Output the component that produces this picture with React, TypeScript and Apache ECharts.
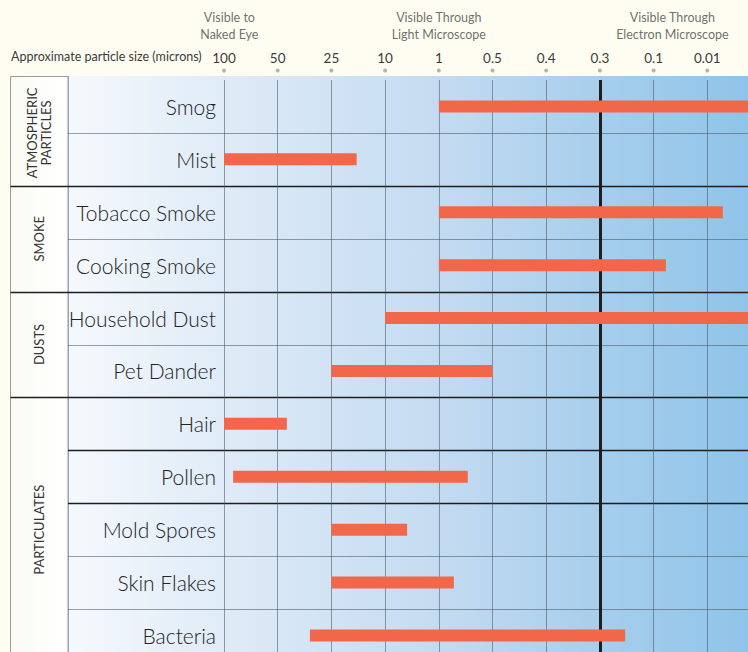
import React, { useEffect, useRef } from "react";
import * as echarts from "echarts";

// ---- data ----
const categories = [
  "Smog", "Mist", "Tobacco Smoke", "Cooking Smoke", "Household Dust", "Pet Dander",
  "Hair", "Pollen", "Mold Spores", "Skin Flakes", "Bacteria",
];
// x positions are ordinal indices along the size scale below
const sizeLabels = ["100", "50", "25", "10", "1", "0.5", "0.4", "0.3", "0.1", "0.01"];
const rangeStart = [4, 0, 4, 4, 3, 2, 0, 0.17, 2, 2, 1.6];
const rangeEnd = [10, 2.47, 9.29, 8.23, 10, 5, 1.17, 4.54, 3.41, 4.28, 7.47];

const groupNames = ["ATMOSPHERIC\nPARTICLES", "SMOKE", "DUSTS", "PARTICULATES"];
const groupStarts = [0, 2, 4, 6];
const groupEnds = [2, 4, 6, 11];
const darkSeparators = [7, 8];
const emphasisIndex = 7; // 0.3 micron line

const headerTexts = ["Visible to\nNaked Eye", "Visible Through\nLight Microscope", "Visible Through\nElectron Microscope"];
const headerPositions = [0.1, 4.0, 8.35];

// ---- layout ----
const W = 748;
const H = 652;
const GRID_LEFT = 68;
const GRID_TOP = 80;
const ROW_H = 52.9;
const STEP = 53.7;
const X0 = 224; // pixel of first size tick
const CAT_LEFT = 10.5;
const FONT = "Lato, 'Noto Sans', sans-serif";
const TEXT = "#3b3b3b";

export default function App() {
  const ref = useRef<HTMLDivElement>(null);

  useEffect(() => {
    if (!ref.current) return;
    const chart = echarts.init(ref.current, null, { renderer: "svg" });
    const xMin = (GRID_LEFT - X0) / STEP;
    const xMax = (W - X0) / STEP;
    const yMax = (H - GRID_TOP) / ROW_H;

    const separators: number[] = [];
    for (let b = 1; b < categories.length; b++) separators.push(b);

    const option: any = {
      animation: false,
      backgroundColor: "#fffdf1",
      grid: { left: GRID_LEFT, right: 0, top: GRID_TOP, bottom: 0, containLabel: false },
      graphic: [
        {
          type: "rect",
          z: -10,
          silent: true,
          shape: { x: GRID_LEFT, y: 76, width: W - GRID_LEFT, height: H - 76 },
          style: {
            fill: new echarts.graphic.LinearGradient(0, 0, 1, 0, [
              { offset: 0, color: "#f5f9fd" },
              { offset: 0.23, color: "#dfebf7" },
              { offset: 0.55, color: "#c3dbf1" },
              { offset: 0.8, color: "#a5cdec" },
              { offset: 1, color: "#8fc4e8" },
            ]),
          },
        },
        {
          type: "rect",
          z: -10,
          silent: true,
          shape: { x: CAT_LEFT, y: 76.5, width: GRID_LEFT - CAT_LEFT, height: H },
          style: {
            fill: new echarts.graphic.LinearGradient(0, 0, 1, 0, [
              { offset: 0, color: "#fbfbf3" },
              { offset: 1, color: "#ffffff" },
            ]),
            stroke: "#9a9a9a",
            lineWidth: 1,
          },
        },
        {
          type: "line",
          z: -5,
          silent: true,
          shape: { x1: GRID_LEFT + 0.5, y1: 76, x2: GRID_LEFT + 0.5, y2: H },
          style: { stroke: "#9aa3ad", lineWidth: 1 },
        },
        {
          type: "text",
          left: 11,
          top: 50,
          style: {
            text: "Approximate particle size (microns)",
            font: `12.5px ${FONT}`,
            fill: TEXT,
          },
        },
      ],
      xAxis: {
        type: "value",
        position: "top",
        min: xMin,
        max: xMax,
        axisLine: { show: false },
        axisTick: { show: false },
        splitLine: { show: false },
        axisLabel: {
          customValues: sizeLabels.map((_, i) => i),
          formatter: (v: number) => sizeLabels[Math.round(v)],
          margin: 15,
          fontSize: 13.5,
          color: TEXT,
          fontFamily: FONT,
        },
      },
      yAxis: {
        type: "value",
        inverse: true,
        min: 0,
        max: yMax,
        position: "left",
        offset: GRID_LEFT - X0,
        axisLine: { show: false },
        axisTick: { show: false },
        splitLine: { show: false },
        axisLabel: {
          customValues: categories.map((_, i) => i + 0.5),
          formatter: (v: number) => categories[Math.floor(v)],
          margin: 8,
          fontSize: 21,
          fontWeight: 300,
          color: "#222222",
          fontFamily: FONT,
        },
      },
      series: [
        // row separators
        {
          type: "custom",
          silent: true,
          z: 1,
          data: separators.map((b) => [0, b]),
          renderItem: (params: any, api: any) => {
            const b = api.value(1);
            const cs = params.coordSys;
            const y = Math.round(api.coord([0, b])[1]) + 0.5;
            const isGroup = groupStarts.indexOf(b) >= 0;
            const isDark = isGroup || darkSeparators.indexOf(b) >= 0;
            return {
              type: "line",
              shape: { x1: isGroup ? CAT_LEFT : cs.x, y1: y, x2: cs.x + cs.width, y2: y },
              style: {
                stroke: isDark ? "#1e1e1e" : "rgba(70,82,96,0.55)",
                lineWidth: isDark ? 1.5 : 1,
              },
            };
          },
        },
        // group labels
        {
          type: "custom",
          silent: true,
          z: 3,
          data: groupNames.map((n, i) => [groupStarts[i], groupEnds[i], i]),
          renderItem: (params: any, api: any) => {
            const i = api.value(2);
            const cs = params.coordSys;
            const y0 = api.coord([0, api.value(0)])[1];
            const y1 = api.coord([0, api.value(1)])[1];
            return {
              type: "text",
              x: (CAT_LEFT + cs.x) / 2,
              y: (y0 + y1) / 2,
              rotation: Math.PI / 2,
              style: {
                text: groupNames[i],
                font: `13px ${FONT}`,
                fill: "#333333",
                align: "center",
                verticalAlign: "middle",
                lineHeight: 14,
              },
            };
          },
        },
        // range bars + size grid lines
        {
          type: "custom",
          z: 4,
          data: categories.map((c, i) => [rangeStart[i], rangeEnd[i], i]),
          renderItem: (params: any, api: any) => {
            const cs = params.coordSys;
            const row = api.value(2);
            const s = api.coord([api.value(0), row + 0.5]);
            const e = api.coord([api.value(1), row + 0.5]);
            const x2 = Math.min(e[0], cs.x + cs.width);
            return {
              type: "rect",
              shape: { x: s[0], y: s[1] - 6, width: x2 - s[0], height: 12 },
              style: { fill: "#f2674a" },
            };
          },
          markLine: {
            silent: true,
            symbol: ["none", "none"],
            label: { show: false },
            z: 2,
            data: sizeLabels.map((_, i) => ({
              xAxis: i,
              lineStyle:
                i === emphasisIndex
                  ? { color: "#1e1e1e", width: 3, type: "solid" }
                  : { color: "rgba(70,82,96,0.55)", width: 1, type: "solid" },
            })),
          },
        },
        // tick dots
        {
          type: "scatter",
          silent: true,
          clip: false,
          symbol: "circle",
          symbolSize: 4,
          itemStyle: { color: "#a0a0a0" },
          data: sizeLabels.map((_, i) => [i, -0.18]),
        },
        // header annotations
        {
          type: "scatter",
          silent: true,
          clip: false,
          symbolSize: 0,
          data: headerPositions.map((p) => [p, -1.03]),
          label: {
            show: true,
            position: "inside",
            formatter: (p: any) => headerTexts[p.dataIndex],
            fontSize: 12.5,
            lineHeight: 17,
            color: "#4a4a4a",
            fontFamily: FONT,
            align: "center",
          },
        },
      ],
    };
    chart.setOption(option);
    return () => chart.dispose();
  }, []);

  return (
    <div
      ref={ref}
      style={{ position: "fixed", left: 0, top: 0, width: W, height: H, background: "#fffdf1" }}
    />
  );
}
